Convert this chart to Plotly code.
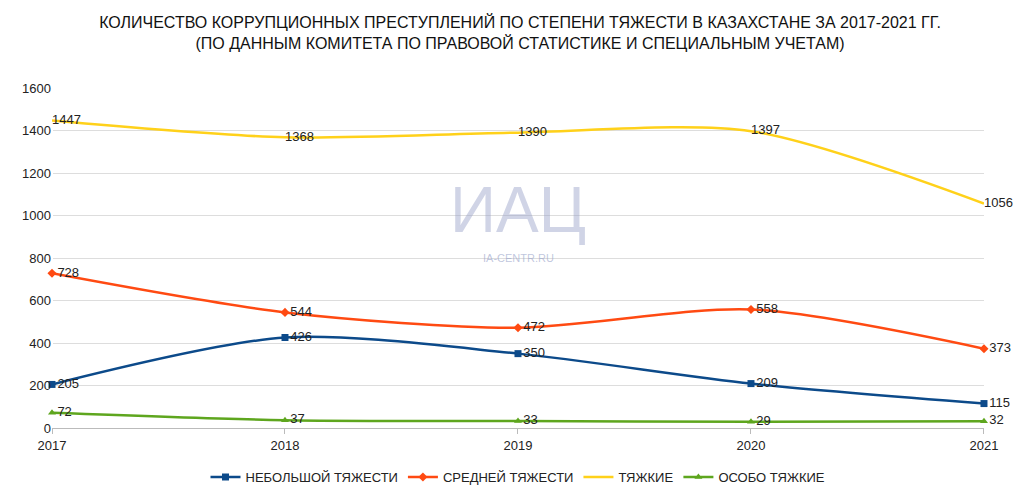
import plotly.graph_objects as go

years = ["2017", "2018", "2019", "2020", "2021"]
small = [205, 426, 350, 209, 115]
medium = [728, 544, 472, 558, 373]
heavy = [1447, 1368, 1390, 1397, 1056]
very_heavy = [72, 37, 33, 29, 32]

series = [
    ("НЕБОЛЬШОЙ ТЯЖЕСТИ", small, "#0c4a8a", "square"),
    ("СРЕДНЕЙ ТЯЖЕСТИ", medium, "#ff4a12", "diamond"),
    ("ТЯЖКИЕ", heavy, "#ffd11a", None),
    ("ОСОБО ТЯЖКИЕ", very_heavy, "#5ea61e", "triangle-up"),
]
F = "Liberation Sans Narrow, Arial Narrow, Liberation Sans, sans-serif"
fig = go.Figure()
for name, vals, col, sym in series:
    fig.add_trace(go.Scatter(
        x=[0, 1, 2, 3, 4], y=vals, name=name,
        mode="lines+markers+text" if sym else "lines+text",
        line=dict(color=col, width=2.5, shape="spline", smoothing=0.8),
        marker=dict(symbol=sym or "circle", size=7, color=col),
        text=[str(v) for v in vals], textposition="middle right",
        textfont=dict(family=F, size=13, color="#222"),
        cliponaxis=False))

fig.add_annotation(x=0.5, y=0.64, xref="paper", yref="paper", text="ИАЦ", showarrow=False,
                   font=dict(family=F, size=64, color="rgba(150,160,200,0.45)"))
fig.add_annotation(x=0.5, y=0.5, xref="paper", yref="paper", text="IA-CENTR.RU", showarrow=False,
                   font=dict(family=F, size=11, color="rgba(150,160,200,0.6)"))

fig.update_layout(
    width=1024, height=496, paper_bgcolor="white", plot_bgcolor="white",
    margin=dict(l=44, r=48, t=80, b=48),
    title=dict(text="КОЛИЧЕСТВО КОРРУПЦИОННЫХ ПРЕСТУПЛЕНИЙ ПО СТЕПЕНИ ТЯЖЕСТИ В КАЗАХСТАНЕ ЗА 2017-2021 ГГ.<br>(ПО ДАННЫМ КОМИТЕТА ПО ПРАВОВОЙ СТАТИСТИКЕ И СПЕЦИАЛЬНЫМ УЧЕТАМ)",
               x=0.5, y=0.96, xanchor="center", yanchor="top",
               font=dict(family=F, size=16, color="#111")),
    xaxis=dict(tickmode="array", tickvals=[0, 1, 2, 3, 4], ticktext=years, range=[0, 4.0001],
               showgrid=False, showline=True, linecolor="#bbb", ticks="outside", tickcolor="#bbb",
               tickfont=dict(family=F, size=13, color="#222")),
    yaxis=dict(range=[0, 1600], dtick=200, gridcolor="#ddd", zeroline=False,
               tickfont=dict(family=F, size=13, color="#222")),
    legend=dict(orientation="h", x=0.5, xanchor="center", y=-0.1, yanchor="top",
                font=dict(family=F, size=13, color="#222")),
)
fig.write_html("out.html")
